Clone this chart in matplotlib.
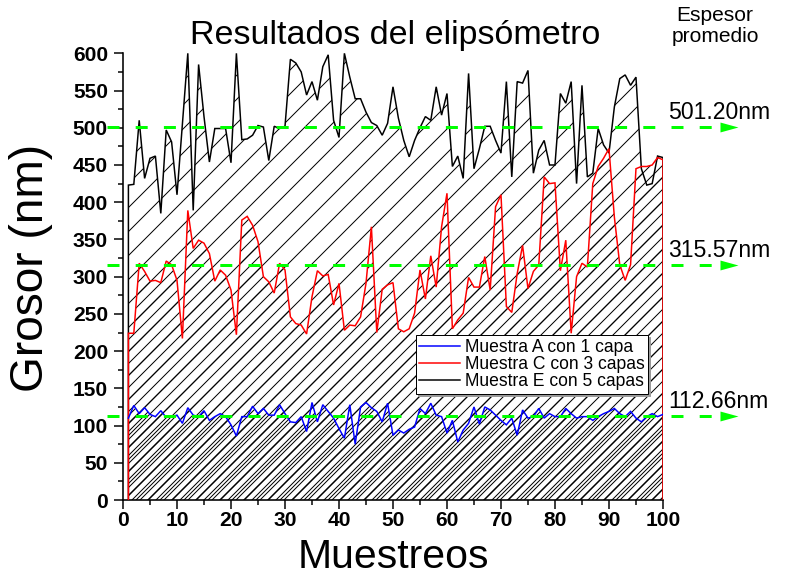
import numpy as np
import matplotlib
matplotlib.use('Agg')
import matplotlib.pyplot as plt
from matplotlib.ticker import MultipleLocator

# espesor medido en cada muestreo (nm)
muestreos = np.arange(1, 101)
grosor_a = [110, 127, 116, 124, 115, 112, 120, 111, 112, 114,
            103, 124, 114, 112, 120, 107, 112, 116, 112, 101,
            86, 112, 112, 126, 116, 123, 114, 114, 128, 116,
            105, 104, 112, 92, 131, 105, 128, 119, 110, 96,
            83, 128, 75, 125, 131, 124, 119, 105, 130, 87,
            94, 90, 95, 98, 123, 116, 130, 114, 112, 90,
            107, 78, 94, 103, 125, 102, 125, 121, 114, 107,
            101, 110, 87, 121, 110, 112, 123, 110, 116, 112,
            112, 123, 116, 110, 112, 112, 107, 112, 116, 119,
            123, 116, 112, 119, 110, 105, 112, 116, 112, 115]
grosor_c = [224, 224, 318, 307, 294, 295, 292, 321, 316, 295,
            217, 389, 338, 349, 345, 331, 294, 309, 302, 282,
            222, 376, 381, 369, 347, 300, 293, 278, 318, 309,
            246, 237, 235, 223, 273, 308, 301, 303, 262, 291,
            228, 235, 234, 246, 291, 367, 225, 283, 289, 292,
            230, 226, 230, 251, 309, 270, 328, 286, 367, 412,
            230, 242, 251, 299, 286, 286, 327, 282, 394, 410,
            260, 252, 304, 342, 284, 307, 316, 434, 425, 426,
            308, 349, 224, 300, 318, 313, 425, 448, 459, 472,
            380, 316, 295, 316, 445, 448, 448, 450, 460, 457]
grosor_e = [423, 424, 510, 432, 459, 462, 385, 497, 481, 410,
            505, 600, 389, 585, 515, 454, 499, 499, 499, 453,
            600, 484, 485, 490, 503, 501, 456, 502, 499, 502,
            592, 587, 575, 544, 562, 537, 582, 598, 510, 487,
            600, 568, 539, 539, 521, 507, 503, 490, 506, 555,
            513, 483, 461, 483, 500, 515, 510, 555, 517, 546,
            448, 462, 432, 573, 445, 472, 502, 502, 483, 466,
            562, 434, 562, 560, 577, 439, 470, 483, 450, 450,
            546, 533, 562, 425, 557, 434, 439, 499, 477, 466,
            528, 566, 571, 557, 568, 445, 423, 425, 462, 460]
etiquetas = ['Muestra A con 1 capa', 'Muestra C con 3 capas', 'Muestra E con 5 capas']
promedios = [112.66, 315.57, 501.20]

VERDE = '#00ff00'
FLECHA = [(-1, -0.55), (1, 0), (-1, 0.55)]


def plt_rc():
    plt.rc('font', family='sans-serif', **{'sans-serif': ['Liberation Sans', 'DejaVu Sans']})
    plt.rc('hatch', linewidth=1.0)
    plt.rc('lines', solid_joinstyle='miter')


def serie(ax, x, y, color, hatch, borde, z):
    x = np.asarray(x)
    y = np.asarray(y)
    ax.fill_between(x, 0, y, facecolor='none', edgecolor='black',
                    hatch=hatch, linewidth=0, zorder=1)
    if borde:
        # el area rellena se cierra con lineas verticales hasta cero
        x, y = np.r_[x[0], x, x[-1]], np.r_[0, y, 0]
    line, = ax.plot(x, y, color=color, lw=1.5, zorder=z)
    return line


plt_rc()
fig = plt.figure(figsize=(787 / 72, 584 / 72), dpi=72)
ax = fig.add_axes([0.1563, 0.1438, 0.6861, 0.7649])

le = serie(ax, muestreos, grosor_e, 'black', '/', True, 2)
lc = serie(ax, muestreos, grosor_c, 'red', '//', True, 3)
la = serie(ax, muestreos, grosor_a, 'blue', '///', False, 4)

for m in promedios:
    ax.plot([-3, 110.6], [m, m], color=VERDE, lw=3, dashes=(4, 5.4),
            clip_on=False, zorder=6)
    ax.plot([112.2], [m], marker=FLECHA, ms=18, color=VERDE, mew=0,
            clip_on=False, zorder=6)
    ax.annotate('%.2fnm' % m, xy=(100.9, m), xytext=(0, 8),
                textcoords='offset points', fontsize=23, va='baseline',
                annotation_clip=False)

ax.set_xlim(0, 100)
ax.set_ylim(0, 600)
ax.set_xticks(range(0, 101, 10))
ax.set_yticks(range(0, 601, 50))
ax.xaxis.set_minor_locator(MultipleLocator(5))
ax.yaxis.set_minor_locator(MultipleLocator(25))
ax.tick_params(which='major', direction='out', length=9, width=1.5,
               labelsize=21, pad=6)
ax.tick_params(which='minor', direction='out', length=5, width=1.5)
ax.tick_params(axis='x', pad=2)
for lbl in ax.get_xticklabels() + ax.get_yticklabels():
    lbl.set_fontweight('bold')
for s in ('top', 'right'):
    ax.spines[s].set_visible(False)
for s in ('left', 'bottom'):
    ax.spines[s].set_linewidth(1.6)

ax.set_ylabel('Grosor (nm)', fontsize=46)
ax.yaxis.set_label_coords(-0.13, 0.52)
ax.set_xlabel('Muestreos', fontsize=41)
ax.xaxis.set_label_coords(0.5, -0.085)

leg = ax.legend([la, lc, le], etiquetas, loc='upper left',
                bbox_to_anchor=(0.5426, 0.369), borderaxespad=0,
                fontsize=17.5, labelspacing=0.02, handlelength=2.3,
                handletextpad=0.3, borderpad=0.2, fancybox=False,
                framealpha=1, edgecolor='black',
                shadow={'color': '0.6', 'alpha': 1})
leg.get_frame().set_linewidth(1.0)
leg.set_zorder(7)

fig.text(395 / 787, 1 - 44 / 584, 'Resultados del elipsómetro', fontsize=34,
         ha='center', va='baseline')
fig.text(715 / 787, 1 - 6 / 584, 'Espesor\npromedio', fontsize=21,
         ha='center', va='top', linespacing=1.15, multialignment='center')

fig.savefig('out.png', dpi=72)
